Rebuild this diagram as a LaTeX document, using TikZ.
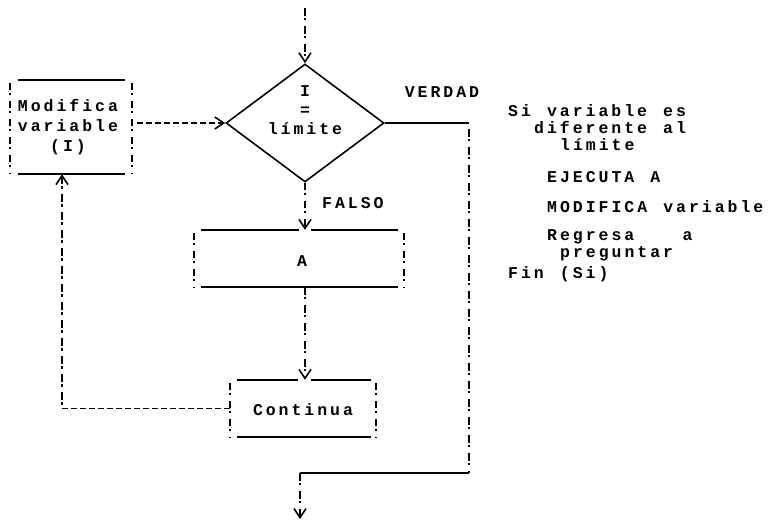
\documentclass[tikz,border=0pt]{standalone}
\usepackage{fontspec}
\newfontfamily\tw{Liberation Mono}[LetterSpace=18,WordSpace=1.25]
\usetikzlibrary{shapes.geometric,arrows.meta,calc}
\begin{document}
\begin{tikzpicture}[x=1pt,y=-1pt,
  >={Straight Barb[length=9pt,width=12pt,line width=1.6pt]},
  txt/.style={font=\tw\bfseries\fontsize{16.5}{19}\selectfont, inner sep=0pt},
  tight/.style={txt, anchor=west, text height=9pt, text depth=1pt},
  bang/.style={line width=2pt, dash pattern=on 7.5pt off 2.5pt on 2.2pt off 5.8pt},
  dashh/.style={line width=1.7pt, dash pattern=on 6pt off 3pt},
  rule/.style={line width=1.5pt},
  dec/.style={diamond, draw, line width=1.6pt, minimum width=158pt, minimum height=118pt, inner sep=0pt},
  boxn/.style={inner sep=0pt, draw=none}]
\useasboundingbox (0,0) rectangle (770,525);
\fill[white] (0,0) rectangle (770,525);

% ---------- nodes ----------
\node[dec] (d) at (305,123) {};
\node[txt, align=center] (dtxt) at (305,110) {I\\=\\límite};

\node[boxn, minimum width=122pt, minimum height=94pt] (m) at (71,127) {};
\node[txt, align=center, font=\tw\bfseries\fontsize{16.5}{20}\selectfont] (mtxt) at (68,127) {Modifica\\variable\\(I)};

\node[boxn, minimum width=210pt, minimum height=57pt] (a) at (299,258.5) {};
\node[txt] (atxt) at (302,261) {A};

\node[boxn, minimum width=145pt, minimum height=57pt] (c) at (303,408.5) {};
\node[txt] (ctxt) at (303,410) {Continua};

% ---------- boxes ----------
% Modifica
\draw[rule] ($(m.north west)+(8,0)$) -- ($(m.north east)+(-7,0)$);
\draw[rule] ($(m.south west)+(8,0)$) -- ($(m.south east)+(-7,0)$);
\draw[bang] ($(m.north west)+(0,3)$) -- (m.south west);
\draw[bang] ($(m.north east)+(0,3)$) -- (m.south east);
% A
\draw[rule] ($(a.north west)+(7,0)$) -- ($(d.south |- a.north)+(-6,0)$);
\draw[rule] ($(d.south |- a.north)+(6,0)$) -- ($(a.north east)+(-6,0)$);
\draw[rule] ($(a.south west)+(7,0)$) -- ($(a.south east)+(-6,0)$);
\draw[bang] ($(a.north west)+(0,3)$) -- (a.south west);
\draw[bang] ($(a.north east)+(0,3)$) -- (a.south east);
% Continua
\draw[rule] ($(c.north west)+(7,0)$) -- ($(d.south |- c.north)+(-7,0)$);
\draw[rule] ($(d.south |- c.north)+(6,0)$) -- ($(c.north east)+(-5,0)$);
\draw[rule] ($(c.south west)+(7,0)$) -- ($(c.south east)+(-5,0)$);
\draw[bang] ($(c.north west)+(0,3)$) -- (c.south west);
\draw[bang] ($(c.north east)+(0,3)$) -- (c.south east);

% ---------- connectors ----------
\coordinate (in) at (305,8);
\draw[bang,->] (in) -- (d.north);
\draw[dashh,->] ($(m.east |- d.west)+(5,0)$) -- (d.west);
\draw[bang,->] (d.south) -- (d.south |- a.north);
\draw[bang,->] (d.south |- a.south) -- (d.south |- c.north);

\coordinate (lc) at (62,408.5);
\draw[dashh] (c.west) -- (lc);
\draw[bang,<-] (m.south -| lc) -- (lc);

\coordinate (r1) at (469,123);
\coordinate (r2) at (469,473);
\coordinate (r3) at (300,473);
\coordinate (out) at (300,519);
\draw[rule] (d.east) -- (r1);
\draw[bang] ($(r1)+(0,6)$) -- (r2);
\draw[rule] (r2) -- (r3);
\draw[bang,->] (r3) -- (out);

% ---------- labels ----------
\node[txt] (verdad) at (442,92) {VERDAD};
\node[txt, anchor=west] (falso) at (322,203) {FALSO};

\node[tight] (n1) at (508,112) {Si variable es};
\node[tight] (n2) at (534,129) {diferente al};
\node[tight] (n3) at (560,146) {límite};
\node[tight] (n4) at (547,178) {EJECUTA A};
\node[tight] (n5) at (547,208) {MODIFICA variable};
\node[tight] (n6) at (547,236) {Regresa\ \ \ a};
\node[tight] (n7) at (560,253) {preguntar};
\node[tight] (n8) at (508,274) {Fin (Si)};
\end{tikzpicture}
\end{document}
